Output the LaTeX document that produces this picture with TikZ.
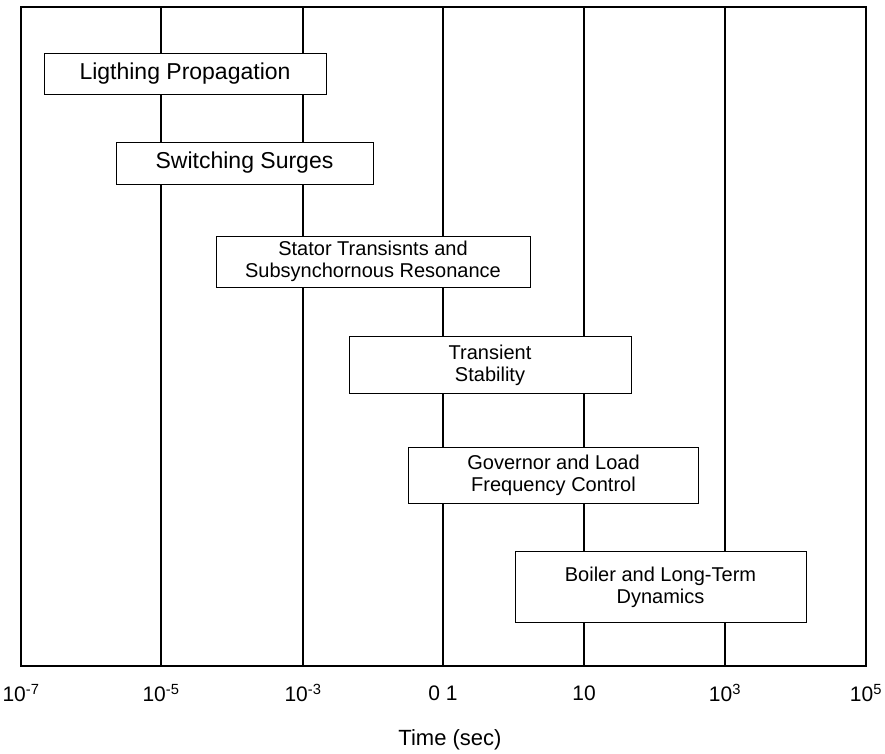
\documentclass[tikz,border=0pt]{standalone}
\usepackage{fontspec}
\setmainfont{Liberation Sans}
\usetikzlibrary{positioning}
\tikzset{
  x=1pt, y=-1pt,
  grid line/.style={line width=2pt},
  band/.style={draw, line width=1pt, fill=white, align=center, inner sep=0pt,
    font=\fontsize{20}{22}\selectfont},
  big band/.style={band, font=\fontsize{23}{26}\selectfont},
  tick label/.style={font=\fontsize{21}{24}\selectfont}
}

\begin{document}
\begin{tikzpicture}
  \useasboundingbox (0,0) rectangle (885,753);

  % frame and decade lines
  \draw[grid line] (21,7) rectangle (866,666);
  \foreach \x in {161,303,443,584,725}
    \draw[grid line] (\x,7) -- (\x,666);

  % decade labels
  \foreach \x/\lbl [count=\i] in {21/10\textsuperscript{-7}, 161/10\textsuperscript{-5},
      303/10\textsuperscript{-3}, 443/0 1, 584/10, 725/10\textsuperscript{3}, 866/10\textsuperscript{5}}
    \node[tick label] (t\i) at (\x,693) {\lbl};
  \node[font=\fontsize{22}{24}\selectfont] (time) at (450,740) {Time (sec)};

  % phenomena
  \node[big band, minimum width=282pt, minimum height=41pt] (light) at (185,73.5) {Ligthing Propagation};
  \node[big band, minimum width=257pt, minimum height=42pt] (switch) at (244.5,163) {Switching Surges};
  \node[band, minimum width=314pt, minimum height=51pt] (stator) at (373,261.5)
    {Stator Transisnts and\\Subsynchornous Resonance};
  \node[band, minimum width=282pt, minimum height=57pt] (trans) at (490,365) {Transient\\Stability};
  \node[band, minimum width=290pt, minimum height=56pt] (gov) at (553.5,475)
    {Governor and Load\\Frequency Control};
  \node[band, minimum width=291pt, minimum height=71pt] (boiler) at (660.5,587)
    {Boiler and Long-Term\\Dynamics};
\end{tikzpicture}
\end{document}
